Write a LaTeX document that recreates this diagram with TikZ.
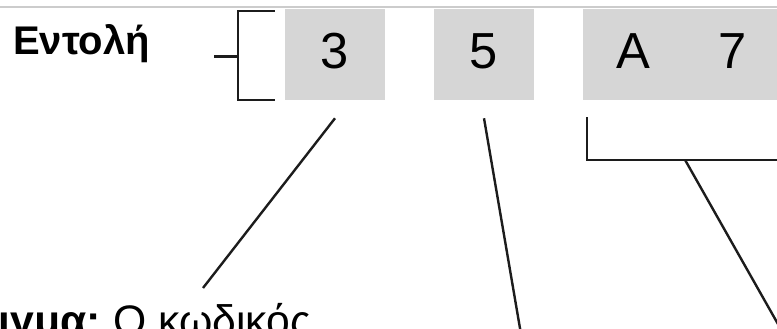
\documentclass[tikz,border=0pt]{standalone}
\usepackage{fontspec}
\setmainfont{Liberation Sans}
\usepackage{tikz}
\usetikzlibrary{positioning, calc}
\definecolor{cellgray}{RGB}{214,214,214}
\definecolor{inkline}{RGB}{28,28,28}
\definecolor{rulegray}{RGB}{204,204,204}
\tikzstyle{cell} = [fill=cellgray, inner sep=0pt, minimum width=75pt, minimum height=68.25pt, text depth=5pt, font=\fontsize{38}{42}\selectfont]
\tikzstyle{pointer} = [draw=inkline, line width=1.8pt]
\tikzstyle{label} = [inner sep=0pt, font=\fontsize{32}{38}\selectfont]

\begin{document}
\begin{tikzpicture}[x=0.75pt,y=-0.75pt,node distance=111.75pt,on grid]
	\useasboundingbox (0,0) rectangle (777,328);
	\clip (0,0) rectangle (777,328);
	\draw[rulegray, line width=1.5pt] (0,7) -- (777,7);
	% the bytes of the instruction
	\node[cell] (b3) at (335,54.5) {3};
	\node[cell][right=of b3] (b5) {5};
	\node[cell][right=of b5] (bA) {A};
	\node[cell][right=75pt of bA] (b7) {7};
	\node[label, anchor=base west, font=\fontsize{30}{36}\selectfont\bfseries] (cmd) at (13,55) {Εντολή};
	\node[label, anchor=base west] (code) at (113,335.5) {Ο κωδικός};
	\node[label, anchor=base east, font=\fontsize{32}{38}\selectfont\bfseries] (ex) at ($(code.base west)+(-12,0)$) {Παράδειγμα:};
	% brackets
	\draw[pointer] ($(b3.north west)+(-10,2)$) -- ++(-37,0) |- ($(b3.south west)+(-10,0)$);
	\draw[pointer] ($(b3.west)+(-47,2)$) -- ++(-24,0);
	\draw[pointer] ($(bA.south west)+(4,17)$) |- ($(b7.south east)+(10,60)$);
	\coordinate (p3) at ($(b3.south)+(0,18)$);
	\coordinate (p5) at ($(b5.south)+(0,18)$);
	\coordinate (pA) at ($(bA.south east)+(2,60)$);
	\coordinate (q3) at (203,288);
	\coordinate (q5) at (522,340);
	\coordinate (qA) at (787,340);
	\path[pointer]
	(p3) edge (q3)
	(p5) edge (q5)
	(pA) edge (qA);
\end{tikzpicture}
\end{document}
